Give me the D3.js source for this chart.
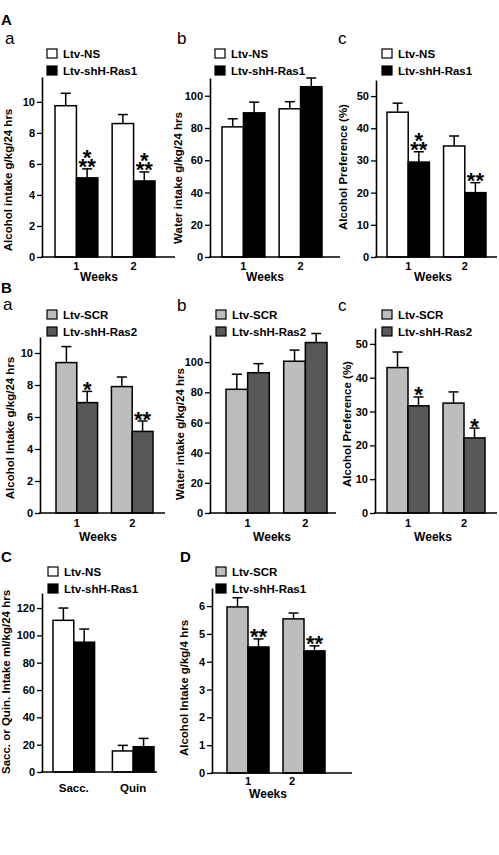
<!DOCTYPE html>
<html><head><meta charset="utf-8">
<script src="https://cdn.jsdelivr.net/npm/d3@7"></script>
<style>
body{margin:0;background:#fff}
text{font-family:"Liberation Sans",Arial,Helvetica,sans-serif}
</style>
</head><body>
<svg id="chart" width="499" height="855"></svg>
<script>
// ---------- data ----------
const weeks = ["1", "2"];
const tastants = ["Sacc.", "Quin"];

// A-a alcohol intake
const aaNS = [9.75, 8.6],  aaNSsem = [0.8, 0.58];
const aaRas1 = [5.1, 4.9], aaRas1sem = [0.58, 0.58];
// A-b water intake
const abNS = [80.7, 91.9],  abNSsem = [5.0, 4.4];
const abRas1 = [89.4, 105.6], abRas1sem = [6.6, 5.4];
// A-c alcohol preference
const acNS = [45.0, 34.5],  acNSsem = [2.8, 3.1];
const acRas1 = [29.5, 20.0], acRas1sem = [3.2, 3.1];
// B-a alcohol intake
const baSCR = [9.4, 7.9],  baSCRsem = [1.0, 0.6];
const baRas2 = [6.9, 5.1], baRas2sem = [0.7, 0.65];
// B-b water intake
const bbSCR = [82, 100.6], bbSCRsem = [10, 7.4];
const bbRas2 = [93, 113],  bbRas2sem = [6, 6];
// B-c alcohol preference
const bcSCR = [43.0, 32.5], bcSCRsem = [4.6, 3.3];
const bcRas2 = [31.7, 22.2], bcRas2sem = [2.6, 2.9];
// C saccharin / quinine
const cNS = [111, 15.4],  cNSsem = [9, 4.1];
const cRas1 = [95, 18.5], cRas1sem = [9.6, 6.1];
// D 4-hr alcohol intake
const dSCR = [5.97, 5.54], dSCRsem = [0.33, 0.21];
const dRas1 = [4.53, 4.39], dRas1sem = [0.29, 0.18];

// significance marks (stacked lines, top to bottom)
const aaStars = [["*", "**"], ["*", "**"]];
const acStars = [["*", "**"], ["**"]];
const baStars = [["*"], ["**"]];
const bcStars = [["*"], ["*"]];
const dStars  = [["**"], ["**"]];

const ticksAa = [0, 2, 4, 6, 8, 10];
const ticksAb = [0, 20, 40, 60, 80, 100];
const ticksAc = [0, 10, 20, 30, 40, 50];
const ticksC  = [0, 20, 40, 60, 80, 100, 120];
const ticksD  = [0, 1, 2, 3, 4, 5, 6];

// ---------- styles ----------
const WHITE = "#ffffff", BLACK = "#000000", LIGHT = "#bdbdbd", DARK = "#585858";

const svg = d3.select("#chart");

function panel(p) {
  const g = svg.append("g");
  const y = d3.scaleLinear().domain([0, p.ymax]).range([p.y0, p.yTop]);
  const x = d3.scaleBand().domain(p.cats).range([p.x0, p.x1]).paddingInner(p.pad ?? 0.25);
  const xs = d3.scaleBand().domain(d3.range(p.series.length)).range([0, x.bandwidth()]);

  // y axis
  const ax = g.append("g").attr("transform", `translate(${p.ax},0)`)
    .call(d3.axisLeft(y).tickValues(p.ticks).tickFormat(d3.format("d"))
      .tickSize(5).tickPadding(2).tickSizeOuter(0));
  ax.select(".domain").attr("stroke", "#000").attr("stroke-width", 1.6);
  ax.selectAll(".tick line").attr("stroke", "#000").attr("stroke-width", 1.3);
  ax.selectAll(".tick text").attr("font-size", "11px").attr("font-weight", "bold")
    .attr("fill", "#000").style("font-family", '"Liberation Sans",Arial,sans-serif');

  // bars
  p.series.forEach((s, si) => {
    s.vals.forEach((v, ci) => {
      const bx = x(p.cats[ci]) + xs(si), bw = xs.bandwidth();
      g.append("rect").attr("x", bx).attr("y", y(v)).attr("width", bw)
        .attr("height", y(0) - y(v)).attr("fill", s.fill)
        .attr("stroke", "#000").attr("stroke-width", 1.5);
      const cx = bx + bw / 2, yt = y(v + s.sem[ci]);
      g.append("line").attr("x1", cx).attr("x2", cx).attr("y1", y(v)).attr("y2", yt)
        .attr("stroke", "#000").attr("stroke-width", 1.5);
      g.append("line").attr("x1", cx - 5).attr("x2", cx + 5).attr("y1", yt).attr("y2", yt)
        .attr("stroke", "#000").attr("stroke-width", 1.5);
      if (s.stars && s.stars[ci]) {
        const st = s.stars[ci];
        const baseY = yt + 5.5 - (st.length - 1) * 9.5;
        const t = g.append("text").attr("x", cx).attr("y", baseY)
          .attr("text-anchor", "middle").attr("font-size", "22px").attr("font-weight", "bold");
        st.forEach((line, k) => {
          t.append("tspan").attr("x", cx).attr("dy", k === 0 ? 0 : 9.5).text(line);
        });
      }
    });
  });

  // x axis line
  g.append("line").attr("x1", p.ax - 1).attr("x2", p.axEnd).attr("y1", y(0)).attr("y2", y(0))
    .attr("stroke", "#000").attr("stroke-width", 1.6);

  // category labels
  p.cats.forEach((c, ci) => {
    g.append("text").attr("x", x(c) + x.bandwidth() / 2 + (p.catDx ? p.catDx[ci] : 0))
      .attr("y", p.catY).attr("text-anchor", "middle")
      .attr("font-size", p.catSize || "11px").attr("font-weight", "bold").text(c);
  });
  if (p.xlabel) {
    g.append("text").attr("x", p.xlabelX).attr("y", p.xlabelY).attr("text-anchor", "middle")
      .attr("font-size", "12px").attr("font-weight", "bold").text(p.xlabel);
  }
  // y label
  g.append("text").attr("transform", `translate(${p.ylabelX},${p.ylabelY}) rotate(-90)`)
    .attr("text-anchor", "middle").attr("dy", "0.35em")
    .attr("font-size", "11.5px").attr("font-weight", "bold").text(p.ylabel);

  // legend
  p.series.forEach((s, si) => {
    const ly = p.legY + si * 17;
    g.append("rect").attr("x", p.legX).attr("y", ly).attr("width", 10).attr("height", 9)
      .attr("fill", s.fill).attr("stroke", "#000").attr("stroke-width", 1.2);
    g.append("text").attr("x", p.legX + 16).attr("y", ly + 8.5)
      .attr("font-size", "11.5px").attr("font-weight", "bold").text(s.name);
  });

  // sub-panel letter
  if (p.sub) {
    g.append("text").attr("x", p.sub.x).attr("y", p.sub.y).attr("font-size", "17px").text(p.sub.t);
  }
}

function letter(t, x, y) {
  svg.append("text").attr("x", x).attr("y", y).attr("font-size", "15px").attr("font-weight", "bold").text(t);
}

// ---------- panels ----------
letter("A", 1, 25);
panel({
  cats: weeks, ymax: 11.6, ticks: ticksAa, y0: 257, yTop: 77, ax: 42, axEnd: 175, x0: 55, x1: 155,
  series: [
    {name: "Ltv-NS", vals: aaNS, sem: aaNSsem, fill: WHITE},
    {name: "Ltv-shH-Ras1", vals: aaRas1, sem: aaRas1sem, fill: BLACK, stars: aaStars}
  ],
  catY: 270, xlabel: "Weeks", xlabelX: 99, xlabelY: 281,
  ylabel: "Alcohol intake g/kg/24 hrs", ylabelX: 8, ylabelY: 180,
  legX: 47, legY: 49, sub: {t: "a", x: 5, y: 44}
});
panel({
  cats: weeks, ymax: 111, ticks: ticksAb, y0: 257, yTop: 78, ax: 210, axEnd: 340, x0: 222, x1: 322,
  series: [
    {name: "Ltv-NS", vals: abNS, sem: abNSsem, fill: WHITE},
    {name: "Ltv-shH-Ras1", vals: abRas1, sem: abRas1sem, fill: BLACK}
  ],
  catY: 270, xlabel: "Weeks", xlabelX: 265, xlabelY: 281,
  ylabel: "Water intake g/kg/24 hrs", ylabelX: 178, ylabelY: 178,
  legX: 215, legY: 49, sub: {t: "b", x: 177, y: 44}
});
panel({
  cats: weeks, ymax: 55, ticks: ticksAc, y0: 257, yTop: 80, ax: 376, axEnd: 497, x0: 387, x1: 486,
  series: [
    {name: "Ltv-NS", vals: acNS, sem: acNSsem, fill: WHITE},
    {name: "Ltv-shH-Ras1", vals: acRas1, sem: acRas1sem, fill: BLACK, stars: acStars}
  ],
  catY: 270, xlabel: "Weeks", xlabelX: 433, xlabelY: 281,
  ylabel: "Alcohol Preference (%)", ylabelX: 343, ylabelY: 167,
  legX: 382, legY: 49, sub: {t: "c", x: 338, y: 44}
});

letter("B", 1, 293);
panel({
  cats: weeks, ymax: 11, ticks: ticksAa, y0: 513, yTop: 337, ax: 40, axEnd: 165, x0: 56, x1: 153,
  series: [
    {name: "Ltv-SCR", vals: baSCR, sem: baSCRsem, fill: LIGHT},
    {name: "Ltv-shH-Ras2", vals: baRas2, sem: baRas2sem, fill: DARK, stars: baStars}
  ],
  catY: 527, xlabel: "Weeks", xlabelX: 98, xlabelY: 541,
  ylabel: "Alcohol Intake g/kg/24 hrs", ylabelX: 9.5, ylabelY: 428,
  legX: 47, legY: 310, sub: {t: "a", x: 3, y: 310}
});
panel({
  cats: weeks, ymax: 118, ticks: ticksAb, y0: 513, yTop: 335, ax: 210, axEnd: 336, x0: 226, x1: 327,
  series: [
    {name: "Ltv-SCR", vals: bbSCR, sem: bbSCRsem, fill: LIGHT},
    {name: "Ltv-shH-Ras2", vals: bbRas2, sem: bbRas2sem, fill: DARK}
  ],
  catY: 527, xlabel: "Weeks", xlabelX: 272, xlabelY: 541,
  ylabel: "Water intake g/kg/24 hrs", ylabelX: 180, ylabelY: 434,
  legX: 216, legY: 310, sub: {t: "b", x: 177, y: 311}
});
panel({
  cats: weeks, ymax: 54.7, ticks: ticksAc, y0: 513, yTop: 328, ax: 375, axEnd: 497, x0: 387, x1: 485,
  series: [
    {name: "Ltv-SCR", vals: bcSCR, sem: bcSCRsem, fill: LIGHT},
    {name: "Ltv-shH-Ras2", vals: bcRas2, sem: bcRas2sem, fill: DARK, stars: bcStars}
  ],
  catY: 527, xlabel: "Weeks", xlabelX: 433, xlabelY: 541,
  ylabel: "Alcohol Preference (%)", ylabelX: 347, ylabelY: 424,
  legX: 382, legY: 310, sub: {t: "c", x: 338, y: 311}
});

letter("C", 1, 562);
panel({
  cats: tastants, ymax: 131, ticks: ticksC, y0: 772, yTop: 593, ax: 42, axEnd: 157, x0: 53, x1: 154, pad: 0.3,
  series: [
    {name: "Ltv-NS", vals: cNS, sem: cNSsem, fill: WHITE},
    {name: "Ltv-shH-Ras1", vals: cRas1, sem: cRas1sem, fill: BLACK}
  ],
  catY: 792, catSize: "11.5px",
  ylabel: "Sacc. or Quin. Intake ml/kg/24 hrs", ylabelX: 6, ylabelY: 682,
  legX: 48, legY: 567
});

letter("D", 180, 562);
panel({
  cats: weeks, ymax: 6.65, ticks: ticksD, y0: 773, yTop: 588, ax: 212, axEnd: 352, x0: 227, x1: 325,
  series: [
    {name: "Ltv-SCR", vals: dSCR, sem: dSCRsem, fill: LIGHT},
    {name: "Ltv-shH-Ras1", vals: dRas1, sem: dRas1sem, fill: BLACK, stars: dStars}
  ],
  catY: 785, catDx: [0, -12], xlabel: "Weeks", xlabelX: 268, xlabelY: 798,
  ylabel: "Alcohol Intake g/kg/4 hrs", ylabelX: 184, ylabelY: 688,
  legX: 216, legY: 567
});
</script>
</body></html>
